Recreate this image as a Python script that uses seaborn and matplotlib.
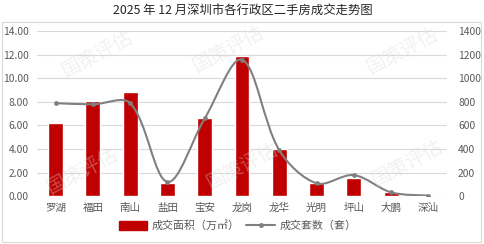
import matplotlib
matplotlib.use("Agg")
import math
import matplotlib.pyplot as plt
import seaborn as sns
import pandas as pd
from matplotlib.path import Path
from matplotlib.patches import PathPatch, Rectangle
from matplotlib.lines import Line2D
from matplotlib.patches import Patch

districts = ["罗湖", "福田", "南山", "盐田", "宝安", "龙岗", "龙华", "光明", "坪山", "大鹏", "深汕"]
area = [6.22, 8.08, 8.85, 1.13, 6.64, 11.95, 4.0, 1.1, 1.55, 0.33, 0.02]
units = [790, 780, 790, 120, 660, 1160, 390, 108, 178, 31, 3]
title = "2025 年 12 月深圳市各行政区二手房成交走势图"
area_label = "成交面积（万㎡）"
units_label = "成交套数（套）"

sns.set_theme(style="white")
plt.rcParams["font.family"] = ["Noto Sans CJK SC", "DejaVu Sans"]

df = pd.DataFrame({"district": districts, "area": area, "units": units})

fig = plt.figure(figsize=(4.85, 2.44), dpi=100)
ax = fig.add_axes([0.0763, 0.1967, 0.8453, 0.6743])
ax2 = ax.twinx()

# outer chart border
fig.patches.append(Rectangle((0.005, 0.008), 0.987, 0.902, transform=fig.transFigure,
                             fill=False, edgecolor="#d9d9d9", linewidth=0.8))

fig.text(0.5, 0.952, title, ha="center", va="center", fontsize=8.9, color="#262626")

sns.barplot(data=df, x="district", y="area", ax=ax, color="#c00000", width=0.4,
            saturation=1, zorder=3)
ax.set_ylim(0, 14)
ax.set_yticks(range(0, 15, 2))
ax.set_yticklabels([f"{v:.2f}" for v in range(0, 15, 2)])
ax.set_xlim(-0.5, len(districts) - 0.5)
ax.grid(axis="y", color="#d9d9d9", linewidth=0.8, zorder=0)
ax.set_axisbelow(True)
ax.set_xlabel("")
ax.set_ylabel("")
for s in ax.spines.values():
    s.set_visible(False)
ax.tick_params(axis="y", labelsize=7.4, colors="#595959", length=0, pad=6)
ax.tick_params(axis="x", labelsize=7.6, colors="#595959", length=0, pad=5)

# smooth line: Bezier through the data points, tangents scaled by segment lengths (screen space)
xs = list(range(len(units)))
n = len(units)
sx, sy = 37.3, 165.0 / 1400.0
def seg_len(a, b):
    return math.hypot((xs[b] - xs[a]) * sx, (units[b] - units[a]) * sy)
verts = [(xs[0], units[0])]
codes = [Path.MOVETO]
for i in range(n - 1):
    im, ip = max(i - 1, 0), min(i + 2, n - 1)
    d_prev = seg_len(im, i) if i > 0 else seg_len(i, i + 1)
    d_cur = seg_len(i, i + 1)
    d_next = seg_len(i + 1, ip) if i + 2 <= n - 1 else d_cur
    f1 = d_cur / (d_prev + d_cur) / 1.5
    f2 = d_cur / (d_cur + d_next) / 1.5
    tx1, ty1 = xs[i + 1] - xs[im], units[i + 1] - units[im]
    tx2, ty2 = xs[ip] - xs[i], units[ip] - units[i]
    c1 = (xs[i] + tx1 * f1 / 2, units[i] + ty1 * f1 / 2)
    c2 = (xs[i + 1] - tx2 * f2 / 2, units[i + 1] - ty2 * f2 / 2)
    verts += [c1, c2, (xs[i + 1], units[i + 1])]
    codes += [Path.CURVE4] * 3
ax2.add_patch(PathPatch(Path(verts, codes), fill=False, edgecolor="#808080",
                        linewidth=1.5, zorder=4))
sns.scatterplot(x=xs, y=units, ax=ax2, color="#7f7f7f", s=10, marker="o",
                edgecolor="#7f7f7f", zorder=5)
ax2.set_ylim(0, 1400)
ax2.set_yticks(range(0, 1401, 200))
ax2.set_xlim(-0.5, len(districts) - 0.5)
for s in ax2.spines.values():
    s.set_visible(False)
ax2.tick_params(axis="y", labelsize=7.4, colors="#595959", length=0, pad=8)
ax2.grid(False)

# watermarks
for (wx, wy) in [(0.2, 0.78), (0.47, 0.8), (0.83, 0.79), (0.17, 0.3), (0.5, 0.32), (0.84, 0.33)]:
    fig.text(wx, wy, "国策评估", fontsize=14, color="#d8d8d8", rotation=28,
             ha="center", va="center", alpha=0.35, zorder=10)

handles = [Patch(facecolor="#c00000", edgecolor="#c00000", label=area_label),
           Line2D([0], [0], color="#7f7f7f", linewidth=1.5, marker="o", markersize=2.5,
                  label=units_label)]
fig.legend(handles=handles, loc="center", bbox_to_anchor=(0.49, 0.075), ncol=2, frameon=False,
           fontsize=7.9, handlelength=2.6, handleheight=0.9, columnspacing=0.6,
           handletextpad=0.4, labelcolor="#595959")

fig.savefig("out.png", dpi=100)
